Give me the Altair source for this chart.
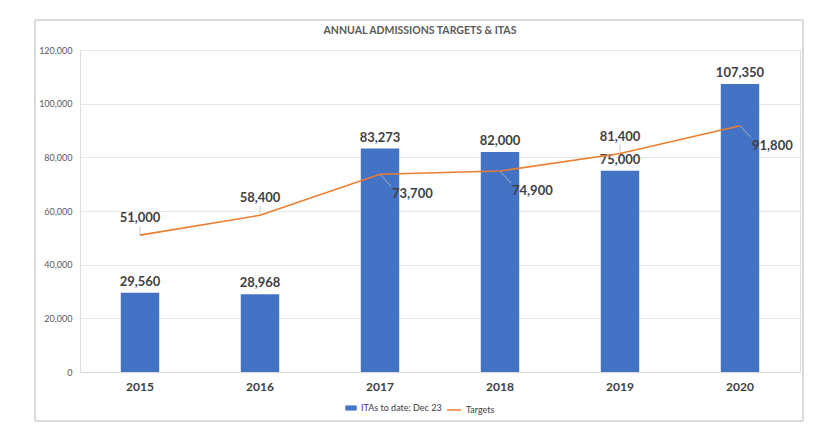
import altair as alt
import pandas as pd

years = ["2015", "2016", "2017", "2018", "2019", "2020"]
itas = [29560, 28968, 83273, 82000, 75000, 107350]
targets = [51000, 58400, 73700, 74900, 81400, 91800]
target_label_side = ["above", "above", "right", "right", "above", "right"]

bar_name = "ITAs to date: Dec 23"
line_name = "Targets"

df = pd.DataFrame({
    "year": years,
    "itas": itas,
    "targets": targets,
    "side": target_label_side,
    "bar_series": [bar_name] * len(years),
    "line_series": [line_name] * len(years),
})

FONT = "Lato"
TXT = "#404040"

x_axis = alt.Axis(labelAngle=0, labelFontWeight="bold", labelFontSize=12,
                  labelColor=TXT, labelPadding=9, ticks=False,
                  domainColor="#d9d9d9", labelFont=FONT)
y_axis = alt.Axis(values=[0, 20000, 40000, 60000, 80000, 100000, 120000],
                  format=",.0f", labelFontSize=9, labelColor="#595959",
                  gridColor="#e6e6e6", domain=False, ticks=False,
                  labelPadding=8, labelFont=FONT)
x_scale = alt.Scale(paddingInner=0.68, paddingOuter=0.34)
y_scale = alt.Scale(domain=[0, 120000])

def X():
    return alt.X("year:N", title=None, sort=years, scale=x_scale, axis=x_axis)

def Y(field):
    return alt.Y(f"{field}:Q", title=None, scale=y_scale, axis=y_axis)

base = alt.Chart(df)

bars = base.mark_bar(color="#4472C4").encode(
    x=X(), y=Y("itas"),
    fill=alt.Fill("bar_series:N", scale=alt.Scale(domain=[bar_name], range=["#4472C4"]),
                  legend=alt.Legend(title=None, orient="none", legendX=265, legendY=352,
                                    symbolType="M-1,-0.45H1V0.45H-1Z", symbolSize=130,
                                    labelFontSize=9, labelColor=TXT, labelFont=FONT,
                                    symbolStrokeWidth=0)),
)

bar_labels = base.mark_text(baseline="bottom", dy=-4, fontSize=13, fontWeight="bold",
                            color=TXT, font=FONT).encode(
    x=X(), y=Y("itas"), text=alt.Text("itas:Q", format=","))

line = base.mark_line(color="#ED7D31", strokeWidth=1.6).encode(
    x=X(), y=Y("targets"),
    stroke=alt.Stroke("line_series:N", scale=alt.Scale(domain=[line_name], range=["#ED7D31"]),
                      legend=alt.Legend(title=None, orient="none", legendX=366, legendY=352,
                                        symbolType="stroke", symbolSize=200,
                                        labelFontSize=9, labelColor=TXT, labelFont=FONT)),
)

# leader lines from the target points to their labels
above_leaders = base.transform_filter(alt.datum.side == "above").mark_rule(
    color="#bfbfbf", strokeWidth=0.8, y2Offset=-9).encode(
    x=X(), y=Y("targets"), y2="targets:Q")

right_leaders = base.transform_filter(alt.datum.side == "right").mark_rule(
    color="#bfbfbf", strokeWidth=0.8, x2Offset=11, y2Offset=12).encode(
    x=X(), x2="year:N", y=Y("targets"), y2="targets:Q")

above_labels = base.transform_filter(alt.datum.side == "above").mark_text(
    baseline="bottom", dy=-10, fontSize=13, fontWeight="bold", color=TXT, font=FONT).encode(
    x=X(), y=Y("targets"), text=alt.Text("targets:Q", format=","))

right_labels = base.transform_filter(alt.datum.side == "right").mark_text(
    align="left", baseline="middle", dx=12, dy=20, fontSize=13, fontWeight="bold",
    color=TXT, font=FONT).encode(
    x=X(), y=Y("targets"), text=alt.Text("targets:Q", format=","))

frame = alt.Chart(df).mark_rect(fill=None, stroke="#d9d9d9", strokeWidth=1).encode(
    x=alt.value(-45), x2=alt.value(723), y=alt.value(-30), y2=alt.value(371))

chart = alt.layer(frame, bars, bar_labels, above_leaders, right_leaders, line,
                  above_labels, right_labels).properties(
    width=720, height=322,
    title=alt.TitleParams("ANNUAL ADMISSIONS TARGETS & ITAS", fontSize=10.5, fontWeight="bold",
                          color="#595959", font=FONT, dx=-20, dy=17, offset=0),
    padding={"left": 72, "top": 42, "right": 20, "bottom": 50},
    autosize=alt.AutoSizeParams(type="none"),
).configure_view(stroke=None).configure(background="white")

chart.save("out.html", embed_options={"renderer": "svg", "actions": False})
